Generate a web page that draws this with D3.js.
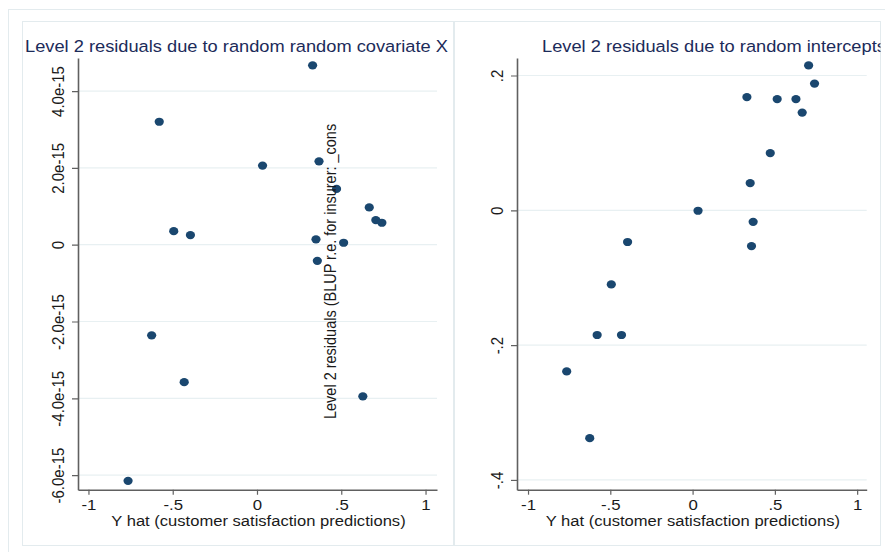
<!DOCTYPE html>
<html>
<head>
<meta charset="utf-8">
<script src="https://cdn.jsdelivr.net/npm/d3@7"></script>
<style>
  html, body { margin: 0; padding: 0; background: #ffffff; }
  svg { display: block; }
  text { font-family: "Liberation Sans", Arial, Helvetica, sans-serif; }
</style>
</head>
<body>
<svg id="chart" width="885" height="552"></svg>
<script>
// ---- data ----
const yhat = [-0.765, -0.625, -0.580, -0.494, -0.432, -0.395, 0.033, 0.330, 0.350, 0.358, 0.368, 0.472, 0.514, 0.628, 0.666, 0.705, 0.741];
// level-2 residuals for random covariate X, in units of 1e-15
const residSlope = [-6.15, -2.36, 3.20, 0.35, -3.58, 0.25, 2.06, 4.67, 0.14, -0.42, 2.17, 1.45, 0.05, -3.95, 0.97, 0.64, 0.57];
// level-2 residuals for random intercepts
const residIntercept = [-0.239, -0.338, -0.185, -0.110, -0.185, -0.047, -0.0006, 0.168, 0.0405, -0.053, -0.017, 0.085, 0.165, 0.165, 0.145, 0.215, 0.188];

const xTickValues = [-1, -0.5, 0, 0.5, 1];
const xTickLabels = ["-1", "-.5", "0", ".5", "1"];
const yLeftTickValues = [-6, -4, -2, 0, 2, 4];
const yLeftTickLabels = ["-6.0e-15", "-4.0e-15", "-2.0e-15", "0", "2.0e-15", "4.0e-15"];
const yRightTickValues = [-0.4, -0.2, 0, 0.2];
const yRightTickLabels = ["-.4", "-.2", "0", ".2"];

const titleLeft = "Level 2 residuals due to random random covariate X";
const titleRight = "Level 2 residuals due to random intercepts";
const xTitle = "Y hat (customer satisfaction predictions)";
const strayYTitle = "Level 2 residuals (BLUP r.e. for insurer: _cons";

// ---- styling ----
const SX = 1.12;
const titleColor = "#1c2b5a";
const pointColor = "#1a476f";
const gridColor = "#e8f0f2";
const axisColor = "#606060";
const borderColor = "#e3ebee";

const svg = d3.select("#chart");

// outer frame
svg.append("rect").attr("x", 8.5).attr("y", 9.5).attr("width", 900).attr("height", 600)
  .attr("fill", "none").attr("stroke", borderColor);

const defs = svg.append("defs");

const panels = [
  { left: 22.5, right: 453.5, top: 21.5, bottom: 545.5,
    px0: 78, px1: 437, xd: [-1.062, 1.068],
    py0: 489.7, py1: 58, yd: [-6.38, 4.86],
    yVals: residSlope, yTicks: yLeftTickValues, yLabels: yLeftTickLabels,
    title: titleLeft, titleX: 25, clip: "clipL" },
  { left: 454.5, right: 880.5, top: 21.5, bottom: 545.5,
    px0: 517, px1: 866.7, xd: [-1.067, 1.058],
    py0: 489.7, py1: 58, yd: [-0.4145, 0.226],
    yVals: residIntercept, yTicks: yRightTickValues, yLabels: yRightTickLabels,
    title: titleRight, titleX: 542, clip: "clipR" }
];

panels.forEach(p => {
  defs.append("clipPath").attr("id", p.clip).append("rect")
    .attr("x", p.left).attr("y", p.top).attr("width", p.right - p.left).attr("height", p.bottom - p.top);

  svg.append("rect").attr("x", p.left).attr("y", p.top)
    .attr("width", p.right - p.left).attr("height", p.bottom - p.top)
    .attr("fill", "#ffffff").attr("stroke", borderColor);
});

panels.forEach((p, i) => {
  const g = svg.append("g").attr("clip-path", `url(#${p.clip})`);
  const x = d3.scaleLinear().domain(p.xd).range([p.px0, p.px1]);
  const y = d3.scaleLinear().domain(p.yd).range([p.py0, p.py1]);

  // gridlines
  g.append("g").selectAll("line").data(p.yTicks).join("line")
    .attr("x1", p.px0).attr("x2", p.px1)
    .attr("y1", d => y(d)).attr("y2", d => y(d))
    .attr("stroke", gridColor).attr("stroke-width", 1.2);

  // y axis
  const yAxis = d3.axisLeft(y).tickValues(p.yTicks)
    .tickFormat((d, k) => p.yLabels[k]).tickSize(6).tickSizeOuter(0);
  const ya = g.append("g").attr("transform", `translate(${p.px0},0)`).call(yAxis);
  ya.select(".domain").attr("stroke", axisColor).attr("stroke-width", 1.6);
  ya.selectAll(".tick line").attr("stroke", axisColor).attr("stroke-width", 1.2);
  ya.selectAll(".tick text")
    .attr("x", 0).attr("dy", null)
    .attr("transform", `translate(-14.5,0) scale(${SX},1) rotate(-90)`)
    .attr("text-anchor", "middle")
    .attr("font-size", 15).attr("fill", "#1a1a1a")
    .attr("font-family", "'Liberation Sans', Arial, sans-serif");

  // x axis
  const xAxis = d3.axisBottom(x).tickValues(xTickValues)
    .tickFormat((d, k) => xTickLabels[k]).tickSize(5).tickSizeOuter(0);
  const xa = g.append("g").attr("transform", `translate(0,${p.py0})`).call(xAxis);
  xa.select(".domain").attr("stroke", axisColor).attr("stroke-width", 1.6);
  xa.selectAll(".tick line").attr("stroke", axisColor).attr("stroke-width", 1.2);
  xa.selectAll(".tick text")
    .attr("y", 20.8).attr("dy", null)
    .attr("transform", `scale(${SX},1)`)
    .attr("text-anchor", "middle")
    .attr("font-size", 15).attr("fill", "#1a1a1a")
    .attr("font-family", "'Liberation Sans', Arial, sans-serif");

  // x title
  g.append("text")
    .attr("transform", `translate(${(p.px0 + p.px1) / 2 + 1},525.5) scale(${SX},1)`)
    .attr("text-anchor", "middle").attr("font-size", 14.8).attr("fill", "#1a1a1a")
    .text(xTitle);

  // panel title
  g.append("text")
    .attr("transform", `translate(${p.titleX},52.3) scale(${SX},1)`)
    .attr("font-size", 16.3).attr("fill", titleColor)
    .text(p.title);

  // points
  g.append("g").selectAll("ellipse").data(yhat.map((v, k) => [v, p.yVals[k]])).join("ellipse")
    .attr("cx", d => x(d[0])).attr("cy", d => y(d[1]))
    .attr("rx", 4.6).attr("ry", 4.1)
    .attr("fill", pointColor);
});

// stray rotated axis title that sits over the left panel
svg.append("text")
  .attr("transform", `translate(336,419) scale(${SX},1) rotate(-90)`)
  .attr("font-size", 14.5).attr("fill", "#1a1a1a")
  .text(strayYTitle);
</script>
</body>
</html>
